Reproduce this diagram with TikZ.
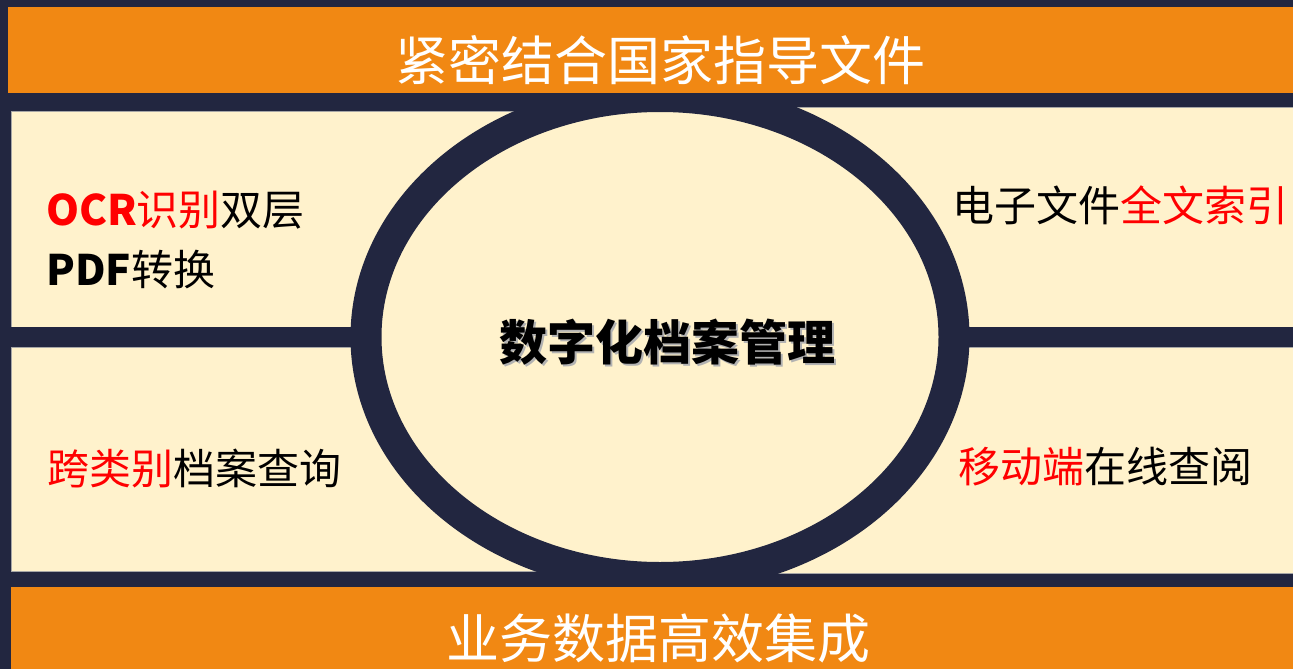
\documentclass[tikz,border=0pt]{standalone}
\usepackage{fontspec}
\setmainfont{Noto Sans CJK SC}
\newfontfamily\cjk{Noto Sans CJK SC}
\definecolor{navy}{RGB}{34,38,64}
\definecolor{orng}{RGB}{241,136,19}
\definecolor{cream}{RGB}{255,242,204}
\definecolor{redt}{RGB}{255,0,0}
\newcommand{\shadowed}[1]{\rlap{\hspace{2.5pt}\raisebox{-2.5pt}{\textcolor{black!30}{#1}}}#1}
\begin{document}
\begin{tikzpicture}[x=1pt,y=-1pt,
  panel/.style={fill=cream,draw=black!35,line width=0.6pt},
  bar/.style={fill=orng,draw=none},
  bartext/.style={text=white,font=\cjk\fontsize{53}{53}\selectfont,inner sep=0pt},
  sidetext/.style={anchor=west,inner sep=0pt,font=\cjk\fontsize{42}{42}\selectfont},
  hl/.style={text=redt}]
\useasboundingbox (0,0) rectangle (1293,669);
\fill[navy] (0,0) rectangle (1293,669);
% panels
\path[panel] (11,111) rectangle (659,327);
\path[panel] (659,107) rectangle (1293,327);
\path[panel] (11,347) rectangle (659,571);
\path[panel] (659,347) rectangle (1293,573);
\fill[navy] (0,327) rectangle (1293,347);
\fill[navy] (640,93) rectangle (680,107);
% ellipse
\draw[navy,fill=cream,line width=31pt] (660,337) ellipse [x radius=294,y radius=240.5];
% bars
\path[bar] (8,7) rectangle (1293,93);
\path[bar] (11,587) rectangle (1293,669);
\node[bartext] (top) at (660,60) {紧密结合国家指导文件};
\node[bartext] (bot) at (658,638) {业务数据高效集成};
% center
\node[inner sep=0pt,font=\cjk\bfseries\fontsize{48}{48}\selectfont] (center) at (667,343) {\shadowed{数字化档案管理}};
% side texts
\node[sidetext] (tl1) at (46,210) {\textcolor{redt}{\bfseries OCR}\textcolor{redt}{识别}双层};
\node[sidetext] (tl2) at (46,270) {{\bfseries PDF}转换};
\node[sidetext] (tr) at (952,205) {电子文件\textcolor{redt}{全文索引}};
\node[sidetext] (bl) at (47,468) {\textcolor{redt}{跨类别}档案查询};
\node[sidetext] (br) at (958,467) {\textcolor{redt}{移动端}在线查阅};
\end{tikzpicture}
\end{document}
